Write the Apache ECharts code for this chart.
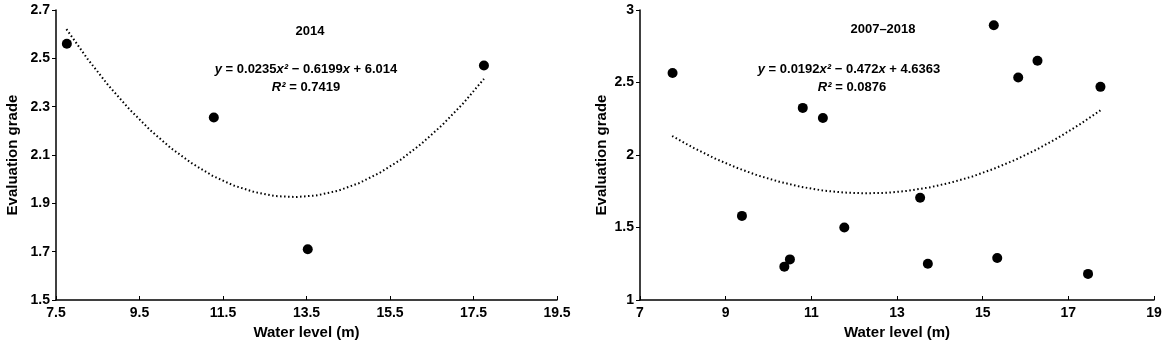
<!DOCTYPE html>
<html>
<head>
<meta charset="utf-8">
<script src="https://cdn.jsdelivr.net/npm/echarts@6/dist/echarts.min.js"></script>
<style>
  html, body { margin: 0; padding: 0; background: #fff; }
  #main { width: 1167px; height: 346px; }
</style>
</head>
<body>
<div id="main"></div>
<script>
// 2014 panel: observed points
const pts2014 = [[7.76, 2.56], [11.28, 2.255], [13.53, 1.71], [17.75, 2.47]];
// 2014 trend line
const fit2014 = [
  [7.75, 2.621], [8.25, 2.499], [8.75, 2.389], [9.25, 2.291], [9.75, 2.204],
  [10.25, 2.129], [10.75, 2.066], [11.25, 2.014], [11.75, 1.974], [12.25, 1.947],
  [12.75, 1.930], [13.25, 1.926], [13.75, 1.933], [14.25, 1.952], [14.75, 1.983],
  [15.25, 2.026], [15.75, 2.080], [16.25, 2.146], [16.75, 2.224], [17.25, 2.313], [17.75, 2.415]
];

// 2007-2018 panel: observed points
const ptsAll = [
  [7.76, 2.565], [9.38, 1.58], [10.37, 1.23], [10.5, 1.28], [10.8, 2.325],
  [11.27, 2.255], [11.77, 1.5], [13.54, 1.705], [13.72, 1.25], [15.26, 2.895],
  [15.34, 1.29], [15.83, 2.535], [16.28, 2.65], [17.46, 1.18], [17.75, 2.47]
];
const fitAll = [
  [7.75, 2.131], [8.25, 2.049], [8.75, 1.976], [9.25, 1.913], [9.75, 1.859],
  [10.25, 1.816], [10.75, 1.781], [11.25, 1.756], [11.75, 1.741], [12.25, 1.736],
  [12.75, 1.739], [13.25, 1.753], [13.75, 1.776], [14.25, 1.809], [14.75, 1.851],
  [15.25, 1.904], [15.75, 1.965], [16.25, 2.036], [16.75, 2.117], [17.25, 2.208], [17.75, 2.308]
];

const titles = ['2014', '2007\u20132018'];
const eqs = [
  ['0.0235', '0.6199', '6.014', '0.7419'],
  ['0.0192', '0.472', '4.6363', '0.0876']
];

const FONT = 'Liberation Sans, Arial, sans-serif';

const chart = echarts.init(document.getElementById('main'));

function xAxis(idx, min, max, fmt) {
  return {
    gridIndex: idx, type: 'value', min: min, max: max, interval: 2,
    name: 'Water level (m)', nameLocation: 'middle', nameGap: 24,
    nameTextStyle: { color: '#000', fontSize: 15, fontWeight: 'bold', fontFamily: FONT },
    axisLine: { show: true, onZero: false, lineStyle: { color: '#000', width: 1.5 } },
    axisTick: { show: true, inside: true, length: 4, lineStyle: { color: '#000' } },
    axisLabel: { color: '#000', fontSize: 14, fontWeight: 'bold', fontFamily: FONT, margin: 6,
      formatter: fmt },
    splitLine: { show: false }
  };
}
function yAxis(idx, min, max, interval, gap, fmt) {
  return {
    gridIndex: idx, type: 'value', min: min, max: max, interval: interval,
    name: 'Evaluation grade', nameLocation: 'middle', nameGap: gap,
    nameTextStyle: { color: '#000', fontSize: 15, fontWeight: 'bold', fontFamily: FONT },
    axisLine: { show: true, onZero: false, lineStyle: { color: '#000', width: 1.5 } },
    axisTick: { show: true, inside: false, length: 4, lineStyle: { color: '#000' } },
    axisLabel: { color: '#000', fontSize: 14, fontWeight: 'bold', fontFamily: FONT, margin: 6,
      formatter: fmt },
    splitLine: { show: false }
  };
}

const rich = {
  n: { fontSize: 13, fontWeight: 'bold', fontFamily: FONT, color: '#000' },
  i: { fontSize: 13, fontWeight: 'bold', fontStyle: 'italic', fontFamily: FONT, color: '#000' }
};
function eqText(e) {
  return '{i|y}{n| = ' + e[0] + '}{i|x\u00b2}{n| \u2212 ' + e[1] + '}{i|x}{n| + ' + e[2] + '}';
}
function r2Text(e) {
  return '{i|R\u00b2}{n| = ' + e[3] + '}';
}

const option = {
  animation: false,
  backgroundColor: '#fff',
  grid: [
    { left: 56, top: 10, width: 501, height: 290 },
    { left: 640, top: 10, width: 514, height: 290 }
  ],
  xAxis: [
    xAxis(0, 7.5, 19.5, v => v.toFixed(1)),
    xAxis(1, 7, 19, v => String(v))
  ],
  yAxis: [
    yAxis(0, 1.5, 2.7, 0.2, 36, v => v.toFixed(1)),
    yAxis(1, 1, 3, 0.5, 31, v => String(v))
  ],
  graphic: [
    { type: 'text', x: 310, y: 25, style: { text: titles[0], align: 'center', fill: '#000', font: 'bold 13px ' + FONT } },
    { type: 'text', x: 306, y: 63, style: { text: eqText(eqs[0]), rich: rich, align: 'center' } },
    { type: 'text', x: 306, y: 81, style: { text: r2Text(eqs[0]), rich: rich, align: 'center' } },
    { type: 'text', x: 883, y: 23, style: { text: titles[1], align: 'center', fill: '#000', font: 'bold 13px ' + FONT } },
    { type: 'text', x: 849, y: 63, style: { text: eqText(eqs[1]), rich: rich, align: 'center' } },
    { type: 'text', x: 852, y: 81, style: { text: r2Text(eqs[1]), rich: rich, align: 'center' } }
  ],
  series: [
    { type: 'line', xAxisIndex: 0, yAxisIndex: 0, data: fit2014, showSymbol: false,
      lineStyle: { color: '#000', width: 2, type: [1.5, 2.5] } },
    { type: 'scatter', xAxisIndex: 0, yAxisIndex: 0, data: pts2014, symbolSize: 10,
      itemStyle: { color: '#000', opacity: 1 } },
    { type: 'line', xAxisIndex: 1, yAxisIndex: 1, data: fitAll, showSymbol: false,
      lineStyle: { color: '#000', width: 2, type: [1.5, 2.5] } },
    { type: 'scatter', xAxisIndex: 1, yAxisIndex: 1, data: ptsAll, symbolSize: 10,
      itemStyle: { color: '#000', opacity: 1 } }
  ]
};
chart.setOption(option);
</script>
</body>
</html>
